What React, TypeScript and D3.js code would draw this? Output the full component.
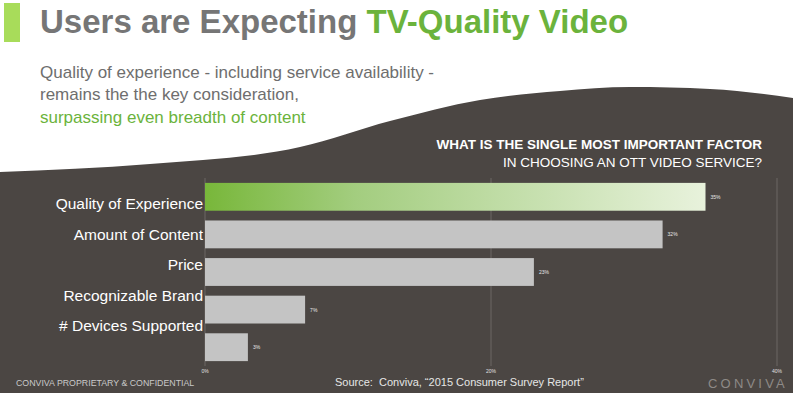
import * as d3 from "d3"

const categories = ["Quality of Experience", "Amount of Content", "Price", "Recognizable Brand", "# Devices Supported"]
const values = [35, 32, 23, 7, 3]
const ticks = [0, 20, 40]

const W = 793
const H = 393
const DARK = "#4b4643"

export default function App() {
  const x = d3.scaleLinear().domain([0, 40]).range([205, 777])
  const y = d3.scaleBand<number>().domain(d3.range(values.length)).range([178, 366]).paddingInner(0.26).paddingOuter(0.13)
  // category labels sit on their own (tighter) spacing in the original slide
  const labelY = d3.scalePoint<string>().domain(categories).range([209, 331])

  const edge = d3.line().curve(d3.curveMonotoneX)([
    [0, 172],
    [150, 164],
    [300, 147],
    [390, 121],
    [480, 100],
    [560, 91],
    [630, 87],
    [710, 89],
    [793, 98],
  ])
  const bg = `${edge}L${W},${H}L0,${H}Z`

  return (
    <svg width={W} height={H} style={{ position: "absolute", left: 0, top: 0, fontFamily: "'Liberation Sans', Arial, sans-serif" }}>
      <defs>
        <linearGradient id="qoe" x1="0" x2="1" y1="0" y2="0">
          <stop offset="0%" stopColor="#78b73a" />
          <stop offset="30%" stopColor="#a3cd7f" />
          <stop offset="100%" stopColor="#e8f2dc" />
        </linearGradient>
      </defs>
      <rect width={W} height={H} fill="#ffffff" />
      <path d={bg} fill={DARK} />

      {/* title */}
      <rect x={4} y={3} width={16} height={39} fill="#a8dc5a" />
      <text x={40} y={33} fontSize={33} fontWeight="bold" fill="#767676">
        Users are Expecting <tspan fill="#6bb33c">TV-Quality Video</tspan>
      </text>
      <text fontSize={17} fill="#6e6e6e">
        <tspan x={40} y={78}>Quality of experience - including service availability -</tspan>
        <tspan x={40} y={100}>remains the the key consideration,</tspan>
        <tspan x={40} y={123} fill="#6bb33c">surpassing even breadth of content</tspan>
      </text>

      {/* chart header */}
      <text textAnchor="end" fill="#ffffff" fontSize={13.5}>
        <tspan x={762} y={149} fontWeight="bold">WHAT IS THE SINGLE MOST IMPORTANT FACTOR</tspan>
        <tspan x={762} y={167}>IN CHOOSING AN OTT VIDEO SERVICE?</tspan>
      </text>

      {/* grid */}
      {ticks.map((t) => (
        <g key={t}>
          <line x1={x(t)} x2={x(t)} y1={178} y2={366} stroke="#6c6764" strokeWidth={1} />
          <text x={x(t)} y={373} fontSize={5} fill="#e0e0e0" textAnchor="middle">{t}%</text>
        </g>
      ))}

      {/* bars */}
      {values.map((v, i) => (
        <g key={i}>
          <rect x={x(0)} y={y(i)} width={x(v) - x(0)} height={y.bandwidth()} fill={i === 0 ? "url(#qoe)" : "#c4c4c4"} />
          <text x={x(v) + 5} y={(y(i) ?? 0) + y.bandwidth() / 2 + 2} fontSize={5} fill="#e8e8e8">{v}%</text>
        </g>
      ))}

      {categories.map((c) => (
        <text key={c} x={203} y={labelY(c)} textAnchor="end" fontSize={15.5} fill="#ffffff">{c}</text>
      ))}

      {/* footer */}
      <text x={16} y={386} fontSize={8.8} fill="#c9c9c9">CONVIVA PROPRIETARY &amp; CONFIDENTIAL</text>
      <text x={335} y={386} fontSize={11} fill="#e6e6e6" style={{ whiteSpace: "pre" }}>Source:  Conviva, “2015 Consumer Survey Report”</text>
      <text x={708} y={388} fontSize={13} fill="#8e8a87" letterSpacing={3.2}>CONVIVA</text>
    </svg>
  )
}
